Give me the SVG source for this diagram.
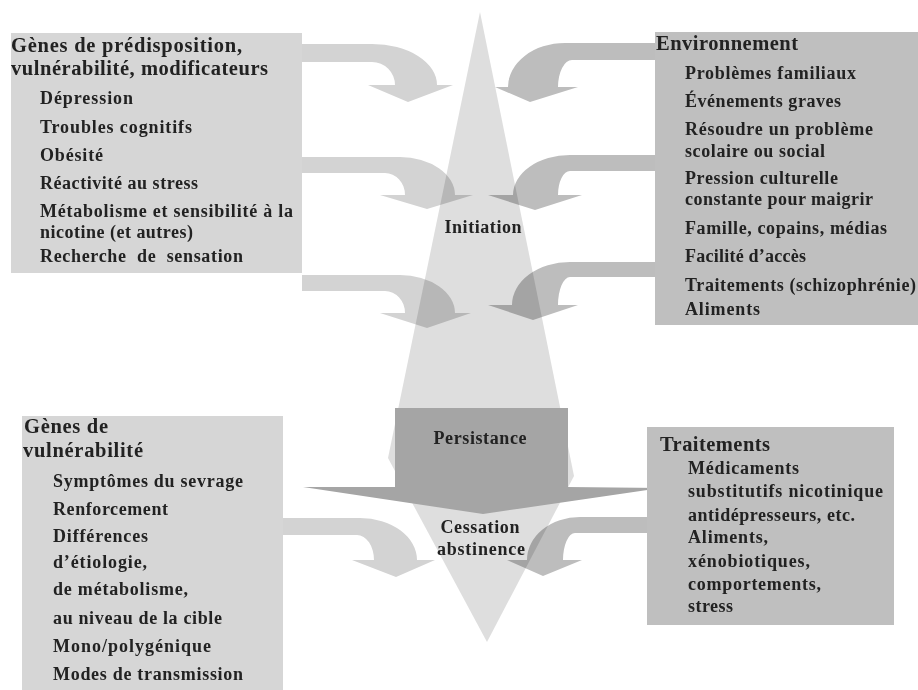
<svg xmlns="http://www.w3.org/2000/svg" width="918" height="690" viewBox="0 0 918 690">
<style>
text{font-family:"Liberation Serif","Times New Roman",serif;font-weight:bold;fill:#222;}
.h{font-size:20.5px;}
.i{font-size:18px;}
.c{font-size:18px;text-anchor:middle;}
.boxL{fill:#d6d6d6;}
.boxR{fill:#bfbfbf;}
.arrL{fill:#d3d3d3;mix-blend-mode:multiply;}
.arrR{fill:#bdbdbd;mix-blend-mode:multiply;}
</style>
<rect width="918" height="690" fill="#ffffff"/>
<g id="flow">
  <polygon id="spindle" points="480,12 574,476 487,642 388,458" fill="#dedede"/>
  <path id="persistance-arrow" d="M395 408 H568 V487 L661 488 L483 514 L303 487 L395 487 Z" fill="#a5a5a5"/>
</g>
<g id="boxes">
  <rect id="box-predisposition" class="boxL" x="11" y="33" width="291" height="240"/>
  <rect id="box-environnement" class="boxR" x="655" y="32" width="263" height="293"/>
  <rect id="box-vulnerabilite" class="boxL" x="22" y="416" width="261" height="274"/>
  <rect id="box-traitements" class="boxR" x="647" y="427" width="247" height="198"/>
</g>
<g id="connectors">
  <path class="arrL" d="M302 44 H372 A65 41 0 0 1 437 85 H453 L408 102 L368 85 H395 A23 23 0 0 0 372 62 H302 Z"/>
  <path class="arrL" d="M302 157 H400 A55 38 0 0 1 455 195 H473 L427 209 L380 195 H405 A20 22 0 0 0 385 173 H302 Z"/>
  <path class="arrL" d="M302 275 H400 A55 38 0 0 1 455 313 H471 L427 328 L380 313 H405 A20 22 0 0 0 385 291 H302 Z"/>
  <path class="arrR" d="M655 43 H565 A57 44 0 0 0 508 87 H495 L530 102 L578 87 H558 A14 27 0 0 1 572 60 H655 Z"/>
  <path class="arrR" d="M655 155 H570 A57 40 0 0 0 513 195 H488 L535 210 L582 195 H558 A12 24 0 0 1 570 171 H655 Z"/>
  <path class="arrR" d="M655 262 H570 A58 43 0 0 0 512 305 H488 L533 320 L578 305 H558 A12 28 0 0 1 570 277 H655 Z"/>
  <path class="arrL" d="M283 518 H360 A57 42 0 0 1 417 560 H435 L396 577 L352 560 H374 A17 25 0 0 0 357 535 H283 Z"/>
  <path class="arrR" d="M647 517 H580 A53 43 0 0 0 527 560 H507 L543 576 L582 560 H563 A12 27 0 0 1 575 533 H647 Z"/>
</g>
<g id="node-predisposition">
  <text class="h" x="11" y="52" textLength="231">Gènes de prédisposition,</text>
  <text class="h" x="11" y="75" textLength="257">vulnérabilité, modificateurs</text>
  <text class="i" x="40" y="104" textLength="93">Dépression</text>
  <text class="i" x="40" y="133" textLength="152">Troubles cognitifs</text>
  <text class="i" x="40" y="161" textLength="63">Obésité</text>
  <text class="i" x="40" y="189" textLength="158">Réactivité au stress</text>
  <text class="i" x="40" y="217" textLength="253">Métabolisme et sensibilité à la</text>
  <text class="i" x="40" y="238" textLength="153">nicotine (et autres)</text>
  <text class="i" x="40" y="262" textLength="203" xml:space="preserve">Recherche  de  sensation</text>
</g>
<g id="node-environnement">
  <text class="h" x="656" y="50" textLength="142">Environnement</text>
  <text class="i" x="685" y="79" textLength="171">Problèmes familiaux</text>
  <text class="i" x="685" y="107" textLength="156">Événements graves</text>
  <text class="i" x="685" y="135" textLength="188">Résoudre un problème</text>
  <text class="i" x="685" y="157" textLength="140">scolaire ou social</text>
  <text class="i" x="685" y="184" textLength="153">Pression culturelle</text>
  <text class="i" x="685" y="205" textLength="188">constante pour maigrir</text>
  <text class="i" x="685" y="234" textLength="202">Famille, copains, médias</text>
  <text class="i" x="685" y="262" textLength="121">Facilité d’accès</text>
  <text class="i" x="685" y="291" textLength="231">Traitements (schizophrénie)</text>
  <text class="i" x="685" y="315" textLength="75">Aliments</text>
</g>
<g id="node-vulnerabilite">
  <text class="h" x="24" y="433" textLength="84">Gènes de</text>
  <text class="h" x="23" y="457" textLength="120">vulnérabilité</text>
  <text class="i" x="53" y="487" textLength="190">Symptômes du sevrage</text>
  <text class="i" x="53" y="515" textLength="115">Renforcement</text>
  <text class="i" x="53" y="542" textLength="95">Différences</text>
  <text class="i" x="53" y="568" textLength="94">d’étiologie,</text>
  <text class="i" x="53" y="595" textLength="135">de métabolisme,</text>
  <text class="i" x="53" y="624" textLength="169">au niveau de la cible</text>
  <text class="i" x="53" y="652" textLength="158">Mono/polygénique</text>
  <text class="i" x="53" y="680" textLength="190">Modes de transmission</text>
</g>
<g id="node-traitements">
  <text class="h" x="660" y="451" textLength="110">Traitements</text>
  <text class="i" x="688" y="474" textLength="111">Médicaments</text>
  <text class="i" x="688" y="497" textLength="195">substitutifs nicotinique</text>
  <text class="i" x="688" y="521" textLength="167">antidépresseurs, etc.</text>
  <text class="i" x="688" y="543" textLength="80">Aliments,</text>
  <text class="i" x="688" y="567" textLength="122">xénobiotiques,</text>
  <text class="i" x="688" y="590" textLength="133">comportements,</text>
  <text class="i" x="688" y="612" textLength="45">stress</text>
</g>
<g id="node-stages">
  <text class="c" x="483" y="233" textLength="77">Initiation</text>
  <text class="c" x="480" y="444" textLength="93">Persistance</text>
  <text class="c" x="480" y="533" textLength="79">Cessation</text>
  <text class="c" x="481" y="555" textLength="88">abstinence</text>
</g>
</svg>
